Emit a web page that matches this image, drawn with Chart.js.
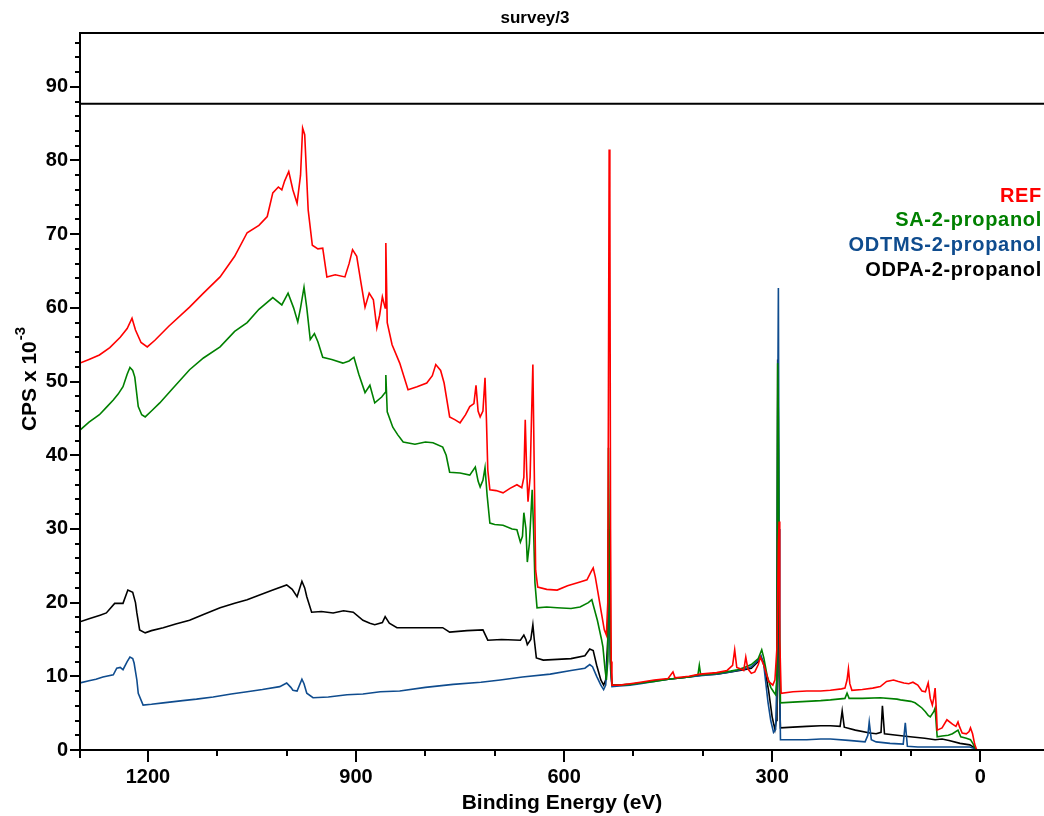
<!DOCTYPE html>
<html>
<head>
<meta charset="utf-8">
<script src="https://cdn.jsdelivr.net/npm/chart.js@4.4.1/dist/chart.umd.min.js"></script>
<style>
  body { margin: 0; background: #fff; }
  canvas { display: block; }
</style>
</head>
<body>
<canvas id="surveyChart" width="1044" height="816"></canvas>
<script>
// XPS survey spectra, counts in CPS x 10^-3
const seriesNames = ['REF', 'SA-2-propanol', 'ODTMS-2-propanol', 'ODPA-2-propanol'];

const refEnergy = [1298, 1285, 1270, 1255, 1240, 1230, 1223, 1218, 1210, 1201, 1190, 1170, 1140, 1120, 1096, 1075, 1057, 1040, 1028, 1020, 1012, 1007, 1003, 997, 991, 985, 980, 977, 974, 969, 963, 955, 948, 942, 930, 916, 910, 905, 899, 893, 887, 881, 875, 870, 866, 862, 858, 857, 855, 848, 837, 825, 812, 798, 790, 785, 778, 773, 765, 757, 750, 742, 736, 730, 727, 724, 721, 717, 714, 712, 710, 707, 698, 688, 678, 668, 661, 658, 656, 654, 652, 649, 647, 645, 643, 641, 638, 625, 610, 595, 577, 567, 561, 558, 555, 551, 546, 542, 539, 537, 536, 535, 534, 533, 532, 531, 520, 505, 490, 470, 450, 443, 440, 420, 404, 380, 365, 357, 354, 351, 345, 341, 338, 335, 330, 325, 320, 317, 312, 305, 299, 296, 293, 291, 290, 289, 287, 270, 250, 230, 216, 200, 195, 192, 190, 188, 185, 170, 155, 144, 135, 125, 118, 110, 103, 97, 90, 84, 79, 75, 72, 69, 67, 65, 63, 62, 55, 48, 40, 35, 32, 30, 26, 20, 16, 14, 11, 8, 5];
const refCps = [52.5, 53.0, 53.6, 54.6, 56.0, 57.2, 58.6, 57.0, 55.3, 54.7, 55.6, 57.5, 60.1, 62.0, 64.2, 67.0, 70.2, 71.2, 72.4, 75.6, 76.4, 76.0, 77.2, 78.5, 76.0, 74.2, 78.0, 84.4, 83.5, 73.3, 68.5, 68.0, 68.1, 64.2, 64.5, 64.2, 66.0, 67.9, 67.0, 63.5, 60.1, 62.0, 61.1, 57.3, 59.0, 61.5, 60.0, 68.8, 58.0, 55.0, 52.5, 48.9, 49.3, 49.8, 50.8, 52.3, 51.5, 49.8, 45.2, 44.8, 44.4, 45.5, 46.6, 47.0, 49.5, 46.0, 45.2, 46.0, 50.5, 45.0, 38.0, 35.3, 35.2, 34.9, 35.5, 36.0, 35.6, 37.0, 44.8, 38.0, 33.7, 37.0, 45.0, 52.3, 38.0, 24.4, 22.1, 21.8, 21.7, 22.3, 22.8, 23.1, 24.2, 24.7, 23.5, 21.3, 18.5, 16.3, 15.6, 20.0, 50.0, 81.5, 75.0, 30.0, 12.0, 8.8, 8.8, 9.0, 9.2, 9.5, 9.7, 10.6, 9.8, 10.0, 10.3, 10.5, 10.8, 11.5, 13.6, 11.2, 11.0, 10.8, 12.6, 11.0, 10.4, 10.6, 11.6, 12.6, 11.5, 9.3, 8.8, 9.5, 14.0, 28.0, 31.0, 15.0, 7.7, 7.9, 8.0, 8.0, 8.1, 8.3, 8.4, 9.5, 11.0, 9.0, 8.1, 8.2, 8.4, 8.6, 9.3, 9.5, 9.3, 9.1, 9.0, 9.2, 8.8, 8.0, 7.9, 9.1, 7.0, 6.1, 7.0, 8.4, 5.0, 2.7, 3.0, 4.1, 3.5, 3.2, 3.8, 3.2, 2.3, 2.2, 2.5, 3.0, 2.2, 0.8, 0];

const saEnergy = [1298, 1285, 1270, 1260, 1250, 1243, 1236, 1230, 1226, 1222, 1219, 1214, 1209, 1204, 1195, 1183, 1165, 1140, 1120, 1096, 1075, 1057, 1040, 1020, 1007, 998, 990, 984, 980, 975, 971, 966, 960, 955, 948, 935, 919, 910, 903, 896, 887, 880, 873, 863, 858, 857, 855, 847, 840, 832, 815, 800, 789, 775, 770, 765, 750, 736, 728, 724, 721, 717, 714, 711, 707, 700, 688, 675, 668, 663, 660, 658, 655, 653, 650, 647, 646, 644, 642, 639, 625, 610, 590, 577, 565, 560, 556, 552, 546, 544, 541, 539, 537, 536, 535, 533, 531, 520, 505, 490, 470, 450, 420, 407, 405, 403, 380, 360, 350, 340, 330, 320, 315, 312, 307, 302, 298, 295, 293, 292, 291, 290, 288, 270, 250, 230, 216, 195, 192, 189, 170, 144, 120, 115, 100, 94, 88, 84, 79, 75, 72, 67, 65, 63, 62, 55, 46, 40, 32, 28, 20, 14, 10, 6];
const saCps = [43.4, 44.5, 45.5, 46.5, 47.5, 48.3, 49.3, 51.0, 51.9, 51.5, 50.6, 46.6, 45.5, 45.2, 46.0, 47.1, 49.0, 51.6, 53.2, 54.7, 56.8, 58.0, 59.8, 61.4, 60.4, 62.0, 60.0, 58.1, 60.0, 62.8, 60.0, 55.7, 56.5, 55.4, 53.3, 53.0, 52.5, 52.8, 53.3, 51.0, 48.5, 49.5, 47.1, 47.9, 48.5, 50.9, 45.9, 43.8, 42.8, 41.8, 41.5, 41.8, 41.7, 41.1, 40.0, 37.7, 37.6, 37.3, 38.4, 36.5, 35.7, 36.6, 38.3, 34.6, 30.8, 30.6, 30.5, 30.0, 29.9, 28.2, 29.0, 32.2, 30.0, 25.5, 28.0, 33.5, 35.3, 30.0, 22.7, 19.3, 19.4, 19.3, 19.2, 19.4, 20.0, 20.4, 19.0, 17.6, 15.0, 14.0, 11.0, 9.5, 12.0, 41.0, 30.0, 12.0, 8.8, 8.8, 8.9, 9.1, 9.3, 9.6, 9.9, 10.2, 11.5, 10.2, 10.4, 10.7, 10.9, 11.2, 11.6, 12.4, 13.6, 12.5, 10.0, 8.5, 7.9, 7.5, 10.0, 52.5, 45.0, 20.0, 6.4, 6.5, 6.6, 6.7, 6.8, 7.0, 7.7, 7.0, 7.0, 7.1, 6.9, 6.8, 6.6, 6.4, 6.0, 5.7, 5.2, 4.7, 4.5, 5.2, 5.7, 3.0, 1.8, 1.9, 2.0, 2.2, 2.7, 1.8, 1.6, 1.4, 0.8, 0];

const odtmsEnergy = [1298, 1285, 1275, 1265, 1250, 1245, 1240, 1236, 1230, 1226, 1222, 1220, 1216, 1214, 1207, 1195, 1178, 1150, 1130, 1106, 1080, 1057, 1035, 1010, 1000, 994, 991, 985, 978, 975, 971, 962, 940, 913, 890, 865, 837, 800, 760, 720, 692, 660, 620, 590, 570, 563, 559, 553, 547, 543, 540, 537, 536, 535, 533, 531, 520, 505, 490, 470, 450, 420, 400, 380, 360, 340, 330, 320, 316, 312, 306, 302, 298, 295, 293, 292, 291, 290, 289, 288, 270, 250, 230, 216, 190, 166, 162, 160, 157, 150, 130, 111, 108, 105, 90, 60, 30, 15, 8, 5];
const odtmsCps = [9.1, 9.4, 9.6, 9.9, 10.2, 11.1, 11.2, 10.9, 12.0, 12.6, 12.4, 11.8, 9.5, 7.7, 6.1, 6.2, 6.4, 6.7, 6.9, 7.2, 7.6, 7.9, 8.2, 8.6, 9.1, 8.5, 8.1, 8.0, 9.6, 9.0, 7.7, 7.1, 7.2, 7.5, 7.6, 7.9, 8.0, 8.5, 8.9, 9.2, 9.5, 9.9, 10.3, 10.8, 11.1, 11.6, 11.3, 10.0, 8.8, 8.2, 8.8, 13.0, 25.0, 20.0, 11.0, 8.6, 8.7, 8.8, 9.0, 9.3, 9.6, 9.9, 10.1, 10.3, 10.6, 11.0, 11.3, 12.2, 12.8, 11.5, 6.5, 4.0, 2.4, 2.8, 10.0, 45.0, 62.7, 30.0, 8.0, 1.4, 1.4, 1.4, 1.5, 1.5, 1.3, 1.1, 2.0, 3.8, 1.4, 1.1, 0.9, 0.8, 3.7, 0.5, 0.4, 0.4, 0.4, 0.4, 0.2, 0];

const odpaEnergy = [1298, 1285, 1269, 1260, 1248, 1236, 1229, 1222, 1218, 1216, 1212, 1204, 1195, 1178, 1160, 1140, 1120, 1096, 1075, 1057, 1040, 1020, 1000, 992, 985, 978, 974, 971, 964, 950, 933, 918, 904, 890, 880, 873, 862, 858, 852, 841, 820, 800, 775, 765, 740, 717, 710, 690, 663, 658, 655, 653, 648, 645, 643, 640, 630, 610, 590, 570, 563, 558, 553, 547, 543, 540, 537, 536, 535, 533, 531, 520, 505, 490, 470, 450, 420, 400, 380, 360, 340, 330, 320, 316, 312, 305, 300, 296, 294, 293, 292, 291, 290, 288, 270, 250, 230, 216, 202, 199, 196, 180, 159, 150, 143, 141, 138, 120, 101, 80, 65, 55, 45, 29, 15, 8, 5];
const odpaCps = [17.4, 17.8, 18.3, 18.6, 19.9, 19.9, 21.7, 21.4, 20.0, 18.6, 16.3, 15.9, 16.2, 16.6, 17.1, 17.6, 18.4, 19.3, 19.9, 20.4, 21.0, 21.7, 22.4, 21.8, 20.8, 22.9, 22.0, 20.8, 18.7, 18.8, 18.6, 18.9, 18.7, 17.6, 17.2, 17.0, 17.3, 18.1, 17.2, 16.6, 16.6, 16.6, 16.6, 16.0, 16.2, 16.3, 14.9, 15.0, 14.9, 15.6, 15.0, 14.3, 15.0, 17.0, 15.0, 12.5, 12.2, 12.3, 12.4, 12.8, 13.7, 13.5, 11.5, 9.5, 8.8, 9.5, 15.0, 30.0, 25.0, 12.0, 8.8, 8.8, 8.9, 9.1, 9.4, 9.6, 9.9, 10.2, 10.3, 10.6, 10.9, 11.1, 12.0, 12.6, 11.8, 8.0, 4.5, 2.8, 4.0, 20.0, 53.0, 40.0, 10.0, 3.0, 3.1, 3.2, 3.3, 3.3, 3.2, 5.3, 3.1, 2.7, 2.3, 2.2, 2.4, 6.0, 2.2, 2.0, 1.8, 1.6, 1.4, 1.5, 1.3, 0.9, 0.7, 0.3, 0];

const seriesColors = ['#ff0000', '#008000', '#0f4c8e', '#000000'];

// axis ranges and ticks
const xMin = -92, xMax = 1298;
const yMin = 0, yMax = 97.3;
const xTickValues = [1200, 1100, 1000, 900, 800, 700, 600, 500, 400, 300, 200, 100, 0];
const xLabelEvery = 300;
const yLabelValues = [0, 10, 20, 30, 40, 50, 60, 70, 80, 90];
const yMinorStep = 2;
const titleBandValue = 87.7;

const toPoints = (xs, ys) => xs.map((x, i) => ({ x: x, y: ys[i] }));
const allSeries = [
  toPoints(refEnergy, refCps),
  toPoints(saEnergy, saCps),
  toPoints(odtmsEnergy, odtmsCps),
  toPoints(odpaEnergy, odpaCps)
];

const fontFamily = "'Liberation Sans', Arial, sans-serif";

// frame, band line, tick marks, y title and the coloured legend text
const framePlugin = {
  id: 'frame',
  afterDatasetsDraw(chart) {
    const c = chart.ctx;
    const area = chart.chartArea;
    const xs = chart.scales.x;
    const ys = chart.scales.y;
    c.save();
    c.strokeStyle = '#000';
    c.lineWidth = 2;
    c.beginPath();
    c.moveTo(area.left, area.bottom + 8);
    c.lineTo(area.left, area.top);
    c.lineTo(chart.width, area.top);
    c.moveTo(area.left, area.bottom);
    c.lineTo(chart.width, area.bottom);
    const by = ys.getPixelForValue(titleBandValue);
    c.moveTo(area.left, by);
    c.lineTo(chart.width, by);
    c.stroke();

    c.beginPath();
    ys.ticks.forEach(t => {
      const y = Math.round(ys.getPixelForValue(t.value));
      const len = yLabelValues.includes(t.value) ? 10 : 5;
      c.moveTo(area.left - len, y);
      c.lineTo(area.left, y);
    });
    xs.ticks.forEach(t => {
      const x = Math.round(xs.getPixelForValue(t.value));
      const len = t.value % xLabelEvery === 0 ? 12 : 6;
      c.moveTo(x, area.bottom);
      c.lineTo(x, area.bottom + len);
    });
    c.stroke();

    // y axis title with superscript
    c.translate(30, (area.top + area.bottom) / 2 - 12);
    c.rotate(-Math.PI / 2);
    c.fillStyle = '#000';
    c.textBaseline = 'middle';
    const main = 'CPS x 10';
    c.font = 'bold 15px ' + fontFamily;
    const supW = c.measureText('-3').width;
    c.font = 'bold 21px ' + fontFamily;
    const mainW = c.measureText(main).width;
    const start = -(mainW + supW) / 2;
    c.textAlign = 'left';
    c.fillText(main, start, 0);
    c.font = 'bold 15px ' + fontFamily;
    c.fillText('-3', start + mainW + 1, -9);
    c.restore();

    // legend: right aligned coloured names
    c.save();
    c.font = 'bold 20px ' + fontFamily;
    c.letterSpacing = '0.7px';
    c.textAlign = 'right';
    c.textBaseline = 'middle';
    seriesNames.forEach((name, i) => {
      c.fillStyle = seriesColors[i];
      c.fillText(name, 1042, 196 + i * 24.7);
    });
    c.restore();
  }
};

const tickFont = { family: fontFamily, size: 20, weight: 'bold' };

new Chart(document.getElementById('surveyChart'), {
  type: 'line',
  data: {
    datasets: allSeries.map((pts, i) => ({
      label: seriesNames[i],
      data: pts,
      borderColor: seriesColors[i],
      borderWidth: 1.6,
      pointRadius: 0,
      tension: 0,
      fill: false
    }))
  },
  options: {
    responsive: false,
    animation: false,
    events: [],
    layout: { autoPadding: false, padding: { left: 26, right: 0, top: 0, bottom: 0 } },
    plugins: {
      legend: { display: false },
      tooltip: { enabled: false },
      title: {
        display: true,
        text: 'survey/3',
        color: '#000',
        font: { family: fontFamily, size: 17, weight: 'bold' },
        padding: { top: 8, bottom: 4.6 }
      }
    },
    scales: {
      x: {
        type: 'linear',
        reverse: true,
        min: xMin,
        max: xMax,
        afterBuildTicks: s => { s.ticks = xTickValues.map(v => ({ value: v })); },
        afterFit: s => { s.height = 66; s.paddingLeft = 0; s.paddingRight = 0; },
        grid: { display: false, drawTicks: false },
        border: { display: false },
        ticks: {
          autoSkip: false,
          maxRotation: 0,
          padding: 15,
          color: '#000',
          font: tickFont,
          callback: v => (v % xLabelEvery === 0 ? String(v) : '')
        },
        title: {
          display: true,
          text: 'Binding Energy (eV)',
          color: '#000',
          font: { family: fontFamily, size: 21, weight: 'bold' },
          padding: 0
        }
      },
      y: {
        min: yMin,
        max: yMax,
        afterBuildTicks: s => {
          const list = [];
          for (let v = yMin; v <= yMax; v += yMinorStep) list.push({ value: v });
          s.ticks = list;
        },
        afterFit: s => { s.width = 54; s.paddingTop = 0; s.paddingBottom = 0; },
        grid: { display: false, drawTicks: false },
        border: { display: false },
        ticks: {
          autoSkip: false,
          padding: 12,
          color: '#000',
          font: tickFont,
          callback: v => (yLabelValues.includes(v) ? String(v) : '')
        }
      }
    }
  },
  plugins: [framePlugin]
});
</script>
</body>
</html>
